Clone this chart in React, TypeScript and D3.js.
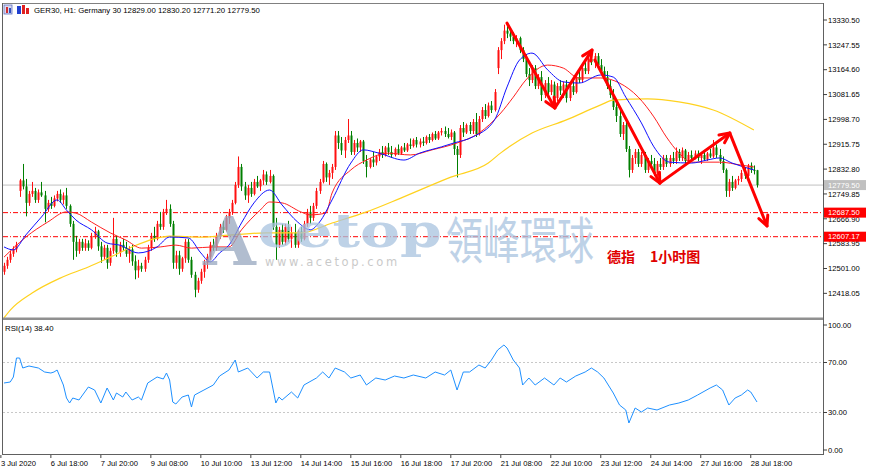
import React from 'react';
import * as d3 from 'd3';

// hourly bars, GER30 H1, 3 Jul 2020 .. 28 Jul 2020
const opens = [
  12490, 12510, 12530, 12550, 12565, 12760, 12795, 12775, 12720, 12750,
  12760, 12730, 12755, 12745, 12700, 12720, 12710, 12735, 12750, 12730,
  12745, 12710, 12650, 12590, 12560, 12590, 12570, 12585, 12570, 12610,
  12625, 12575, 12540, 12570, 12520, 12560, 12600, 12555, 12580, 12570,
  12550, 12565, 12525, 12495, 12510, 12500, 12530, 12570, 12610, 12600,
  12650, 12640, 12690, 12700, 12650, 12520, 12545, 12500, 12535, 12590,
  12530, 12480, 12430, 12460, 12490, 12520, 12540, 12580, 12570, 12610,
  12640, 12630, 12670, 12690, 12720, 12780, 12840, 12775, 12745, 12770,
  12750, 12790, 12775, 12795, 12815, 12790, 12810, 12640, 12580, 12630,
  12590, 12640, 12600, 12620, 12580, 12625, 12600, 12650, 12690, 12670,
  12710, 12760, 12790, 12850, 12805, 12820, 12840, 12945, 12920, 12895,
  12930, 12945, 12890, 12920, 12905, 12925, 12860, 12840, 12865, 12855,
  12875, 12890, 12880, 12905, 12890, 12880, 12900, 12885, 12905, 12895,
  12915, 12910, 12930, 12915, 12925, 12920, 12940, 12930, 12950, 12935,
  12955, 12960, 12950, 12940, 12955, 12900, 12880, 12970, 12955, 12980,
  12960, 12990, 12950, 13000, 13030, 13010, 13045, 13030, 13170, 13230,
  13260, 13295, 13285, 13275, 13260, 13270, 13230, 13200, 13150, 13130,
  13170, 13110, 13140, 13080, 13120, 13090, 13115, 13070, 13110, 13095,
  13115, 13070, 13110, 13090, 13140, 13130, 13170, 13160, 13200, 13190,
  13210, 13180, 13160, 13140, 13110, 13080, 13040, 13010, 12950, 12980,
  12900, 12830, 12870, 12890, 12850, 12880, 12830, 12860, 12850, 12820,
  12850, 12840, 12870, 12850, 12870, 12860, 12890, 12870, 12895, 12860,
  12880, 12870, 12885, 12870, 12880, 12865, 12885, 12875, 12905, 12880,
  12860, 12830, 12760, 12790, 12770, 12795, 12800, 12820, 12810, 12845,
  12830, 12829,
];
const highs = [
  12520, 12540, 12560, 12575, 12590, 12800, 12850, 12800, 12760, 12790,
  12770, 12765, 12790, 12760, 12730, 12740, 12745, 12760, 12765, 12755,
  12770, 12715, 12660, 12610, 12600, 12600, 12600, 12595, 12620, 12640,
  12630, 12590, 12580, 12580, 12570, 12670, 12610, 12590, 12600, 12590,
  12575, 12580, 12545, 12530, 12520, 12540, 12580, 12620, 12640, 12660,
  12690, 12700, 12730, 12715, 12660, 12560, 12560, 12540, 12600, 12600,
  12540, 12490, 12470, 12500, 12530, 12550, 12590, 12600, 12620, 12650,
  12660, 12680, 12700, 12730, 12790, 12875, 12850, 12790, 12780, 12790,
  12800, 12810, 12800, 12830, 12825, 12830, 12815, 12670, 12640, 12650,
  12650, 12660, 12640, 12650, 12630, 12640, 12660, 12700, 12710, 12720,
  12770, 12800, 12860, 12855, 12830, 12850, 12960, 12960, 12940, 12940,
  13000, 12960, 12930, 12935, 12930, 12930, 12880, 12870, 12890, 12880,
  12900, 12910, 12910, 12920, 12910, 12905, 12915, 12910, 12920, 12920,
  12935, 12935, 12940, 12935, 12940, 12945, 12950, 12955, 12960, 12960,
  12970, 12975, 12970, 12965, 12960, 12910, 12980, 12990, 12985, 12990,
  13000, 13020, 13010, 13040, 13050, 13055, 13060, 13100, 13240, 13270,
  13315, 13310, 13300, 13290, 13280, 13275, 13240, 13215, 13170, 13180,
  13180, 13150, 13160, 13130, 13140, 13130, 13125, 13120, 13130, 13125,
  13130, 13120, 13130, 13150, 13160, 13180, 13200, 13210, 13230, 13220,
  13220, 13200, 13175, 13160, 13130, 13100, 13060, 13030, 12990, 12990,
  12910, 12880, 12900, 12900, 12890, 12890, 12870, 12880, 12870, 12860,
  12870, 12880, 12880, 12880, 12890, 12905, 12900, 12905, 12900, 12890,
  12895, 12895, 12895, 12890, 12895, 12890, 12900, 12930, 12915, 12900,
  12875, 12835, 12800, 12810, 12800, 12810, 12830, 12840, 12850, 12855,
  12845, 12830.2,
];
const lows = [
  12480, 12500, 12520, 12540, 12555, 12740, 12765, 12675, 12710, 12740,
  12720, 12720, 12740, 12655, 12690, 12700, 12705, 12725, 12720, 12715,
  12700, 12640, 12530, 12540, 12550, 12560, 12560, 12560, 12565, 12600,
  12560, 12520, 12530, 12500, 12510, 12550, 12540, 12540, 12560, 12540,
  12520, 12510, 12465, 12470, 12490, 12490, 12520, 12560, 12590, 12595,
  12630, 12630, 12680, 12640, 12500, 12500, 12480, 12490, 12520, 12520,
  12470, 12405, 12420, 12450, 12470, 12500, 12530, 12560, 12560, 12600,
  12620, 12625, 12650, 12680, 12715, 12770, 12760, 12730, 12720, 12740,
  12745, 12770, 12760, 12780, 12780, 12785, 12630, 12530, 12570, 12580,
  12580, 12590, 12570, 12570, 12570, 12590, 12595, 12640, 12650, 12660,
  12700, 12750, 12785, 12790, 12780, 12800, 12830, 12900, 12880, 12870,
  12920, 12880, 12880, 12890, 12890, 12850, 12805, 12835, 12840, 12845,
  12860, 12870, 12875, 12880, 12870, 12875, 12880, 12880, 12890, 12890,
  12900, 12905, 12905, 12905, 12910, 12915, 12920, 12925, 12930, 12930,
  12945, 12940, 12935, 12930, 12880, 12805, 12870, 12940, 12950, 12950,
  12950, 12940, 12945, 12990, 13000, 13005, 13020, 13025, 13150, 13200,
  13250, 13270, 13260, 13250, 13240, 13220, 13190, 13140, 13110, 13120,
  13100, 13100, 13060, 13070, 13070, 13080, 13060, 13060, 13080, 13070,
  13055, 13060, 13080, 13085, 13120, 13120, 13150, 13150, 13180, 13170,
  13170, 13150, 13130, 13100, 13070, 13030, 12990, 12940, 12930, 12890,
  12805, 12820, 12850, 12840, 12840, 12820, 12820, 12840, 12810, 12810,
  12830, 12830, 12840, 12840, 12850, 12850, 12860, 12860, 12850, 12850,
  12860, 12865, 12860, 12850, 12860, 12860, 12870, 12870, 12870, 12850,
  12820, 12740, 12740, 12760, 12765, 12780, 12790, 12800, 12800, 12820,
  12815, 12771.2,
];
const closes = [
  12510, 12530, 12550, 12565, 12580, 12795, 12775, 12720, 12750, 12760,
  12730, 12755, 12745, 12700, 12720, 12710, 12735, 12750, 12730, 12745,
  12710, 12650, 12590, 12560, 12590, 12570, 12585, 12570, 12610, 12625,
  12575, 12540, 12570, 12520, 12560, 12600, 12555, 12580, 12570, 12550,
  12565, 12525, 12495, 12510, 12500, 12530, 12570, 12610, 12600, 12650,
  12640, 12690, 12700, 12650, 12520, 12545, 12500, 12535, 12590, 12530,
  12480, 12430, 12460, 12490, 12520, 12540, 12580, 12570, 12610, 12640,
  12630, 12670, 12690, 12720, 12780, 12840, 12775, 12745, 12770, 12750,
  12790, 12775, 12795, 12815, 12790, 12810, 12640, 12580, 12630, 12590,
  12640, 12600, 12620, 12580, 12625, 12600, 12650, 12690, 12670, 12710,
  12760, 12790, 12850, 12805, 12820, 12840, 12945, 12920, 12895, 12930,
  12945, 12890, 12920, 12905, 12925, 12860, 12840, 12865, 12855, 12875,
  12890, 12880, 12905, 12890, 12880, 12900, 12885, 12905, 12895, 12915,
  12910, 12930, 12915, 12925, 12920, 12940, 12930, 12950, 12935, 12955,
  12960, 12950, 12940, 12955, 12900, 12880, 12970, 12955, 12980, 12960,
  12990, 12950, 13000, 13030, 13010, 13045, 13030, 13090, 13230, 13260,
  13295, 13285, 13275, 13260, 13270, 13230, 13200, 13150, 13130, 13170,
  13110, 13140, 13080, 13120, 13090, 13115, 13070, 13110, 13095, 13115,
  13070, 13110, 13090, 13140, 13130, 13170, 13160, 13200, 13190, 13210,
  13180, 13160, 13140, 13110, 13080, 13040, 13010, 12950, 12980, 12900,
  12830, 12870, 12890, 12850, 12880, 12830, 12860, 12850, 12820, 12850,
  12840, 12870, 12850, 12870, 12860, 12890, 12870, 12895, 12860, 12880,
  12870, 12885, 12870, 12880, 12865, 12885, 12875, 12905, 12880, 12860,
  12830, 12760, 12790, 12770, 12795, 12800, 12820, 12810, 12845, 12830,
  12829, 12779.5,
];

// moving averages: [bar, price]
const blueMa = [
  [0, 12573], [3, 12563], [7, 12613], [12, 12673], [17, 12730], [20, 12696], [23, 12663],
  [28, 12630], [33, 12586], [37, 12579], [43, 12553], [49, 12573], [53, 12606], [59, 12603],
  [63, 12553], [66, 12523], [69, 12553], [72, 12579], [76, 12653], [80, 12720], [85, 12763],
  [89, 12713], [94, 12656], [98, 12630], [101, 12656], [105, 12730], [111, 12853], [115, 12897],
  [120, 12886], [128, 12863], [133, 12886], [140, 12907], [144, 12920], [150, 12940],
  [157, 12997], [161, 13107], [165, 13197], [169, 13220], [174, 13164], [179, 13124],
  [184, 13120], [191, 13147], [195, 13140], [199, 13073], [204, 12987], [208, 12907],
  [213, 12856], [220, 12853], [225, 12863], [229, 12870], [233, 12853], [240, 12830],
];
const redMa = [
  [0, 12539], [3, 12569], [7, 12606], [14, 12656], [20, 12690], [23, 12686], [28, 12656],
  [34, 12620], [39, 12596], [44, 12569], [50, 12573], [55, 12579], [60, 12569], [67, 12573],
  [72, 12573], [76, 12630], [82, 12696], [85, 12723], [89, 12720], [95, 12690], [98, 12680],
  [103, 12686], [105, 12753], [111, 12830], [116, 12863], [123, 12886], [130, 12880],
  [137, 12897], [145, 12920], [152, 12953], [159, 13020], [163, 13073], [167, 13130],
  [174, 13180], [179, 13170], [184, 13137], [191, 13137], [197, 13120], [203, 13073],
  [208, 13007], [212, 12940], [216, 12887], [220, 12856], [229, 12856], [236, 12846],
  [240, 12840],
];
const yellowMa = [
  [0, 12336], [2, 12362], [9, 12419], [18, 12469], [27, 12506], [34, 12539], [41, 12573],
  [48, 12600], [53, 12609], [63, 12606], [73, 12613], [84, 12620], [95, 12620], [105, 12653],
  [116, 12690], [127, 12736], [143, 12806], [155, 12853], [159, 12887], [169, 12953],
  [180, 12997], [191, 13047], [195, 13063], [206, 13067], [216, 13057], [227, 13030],
  [240, 12963],
];

// RSI(14): [bar, value]
const rsi = [
  [0, 53.6], [2, 54.4], [3, 58.4], [4, 73.6], [5, 73.6], [6, 65.6], [8, 67.2], [11, 65.6],
  [13, 62.4], [15, 61.6], [16, 62.4], [17, 64], [19, 52], [20, 41.6], [21, 37.6], [22, 41.6],
  [24, 40], [27, 50.4], [29, 48], [31, 37.6], [33, 49.6], [35, 40], [36, 45.6], [38, 42.4],
  [39, 46.4], [41, 40], [43, 42.4], [44, 40], [46, 53.6], [49, 58.4], [51, 56.8], [52, 61.6],
  [53, 56], [54, 38.4], [55, 36.8], [57, 42.4], [59, 44], [60, 34.4], [61, 44], [64, 48],
  [67, 52], [69, 59.2], [72, 64], [74, 72], [75, 62.4], [78, 65.6], [81, 57.6], [83, 62.4],
  [85, 62.4], [87, 37.6], [88, 42.4], [89, 40], [92, 46.4], [94, 41.6], [96, 52], [100, 57.6],
  [102, 62.4], [104, 57.6], [106, 65.6], [109, 62.4], [111, 57.6], [114, 60], [116, 52],
  [119, 57.6], [122, 56], [125, 59.2], [128, 57.6], [131, 60], [135, 57.6], [138, 62.4],
  [141, 60], [143, 64], [145, 48], [147, 62.4], [149, 62.4], [152, 68], [154, 65.6], [156, 72],
  [158, 80], [160, 84], [161, 81.6], [163, 72], [165, 65.6], [166, 52], [168, 57.6], [170, 52],
  [173, 57.6], [176, 52], [178, 57.6], [180, 54.4], [183, 59.2], [186, 62.4], [188, 65.6],
  [190, 62.4], [192, 57.6], [195, 45.6], [197, 36], [199, 32], [200, 21.6], [202, 33.6],
  [204, 30.4], [206, 33.6], [209, 32], [213, 36], [216, 37.6], [219, 40], [222, 44],
  [226, 49.6], [228, 52], [230, 48], [232, 36], [234, 41.6], [236, 44], [238, 48],
  [239, 46.4], [241, 38.4],
];

const priceTicks = [13330.5, 13247.55, 13164.6, 13081.65, 12998.7, 12915.75, 12832.8, 12749.85, 12666.9, 12583.95, 12501.0, 12418.05];
const rsiTicks = [100, 70, 30, 0];
const timeIdx = [-1, 15, 31, 47, 63, 79, 95, 111, 127, 143, 159, 175, 191, 207, 223, 239];
const timeLabels = ['3 Jul 2020', '6 Jul 18:00', '7 Jul 20:00', '9 Jul 08:00', '10 Jul 10:00', '13 Jul 12:00', '14 Jul 14:00', '15 Jul 16:00', '16 Jul 18:00', '17 Jul 20:00', '21 Jul 08:00', '22 Jul 10:00', '23 Jul 12:00', '24 Jul 14:00', '27 Jul 16:00', '28 Jul 18:00'];
const supportLevels = [12687.5, 12607.17];
const lastPrice = 12779.5;

// hand-drawn zigzag arrows: [bar0, price0, bar1, price1]
const arrows = [
  [161, 13320, 176.3, 13037],
  [176.3, 13037, 188.2, 13230],
  [189.1, 13197, 209.9, 12786],
  [209.9, 12786, 232.3, 12953],
  [232.3, 12953, 244.2, 12643],
];

const font = "'Liberation Sans', Arial, sans-serif";

export default function App() {
  const x = d3.scaleLinear().domain([0, 241]).range([4, 757]);
  const y = d3.scaleLinear().domain([12418.05, 13330.5]).range([293.35, 20]);
  const yr = d3.scaleLinear().domain([0, 100]).range([450, 325]);

  const maLine = d3.line<number[]>().x((d) => x(d[0])).y((d) => y(d[1])).curve(d3.curveMonotoneX);
  const rsiLine = d3.line<number[]>().x((d) => x(d[0])).y((d) => yr(d[1]));

  const head = (x1: number, y1: number, x2: number, y2: number) => {
    const a = Math.atan2(y2 - y1, x2 - x1);
    const len = 11, th = 0.45;
    const p1 = [x2 - len * Math.cos(a - th), y2 - len * Math.sin(a - th)];
    const p2 = [x2 - len * Math.cos(a + th), y2 - len * Math.sin(a + th)];
    return `M${p1[0]},${p1[1]}L${x2},${y2}L${p2[0]},${p2[1]}`;
  };

  return (
    <svg width={870} height={470} style={{ position: 'absolute', left: 0, top: 0, background: '#fff' }} fontFamily={font}>
      <defs>
        <clipPath id="mainClip"><rect x={3} y={3} width={820} height={315} /></clipPath>
        <clipPath id="rsiClip"><rect x={3} y={320} width={820} height={134} /></clipPath>
      </defs>

      {/* header */}
      <rect x={4} y={5} width={8} height={9} fill="#d8d8f0" stroke="#6070c0" strokeWidth={0.8} />
      <rect x={6} y={7} width={2} height={6} fill="#d03030" />
      <rect x={9} y={8} width={2} height={5} fill="#3050c0" />
      <rect x={17} y={6} width={4} height={8} fill="#2040d0" />
      <rect x={22} y={5} width={3} height={9} fill="#e02020" />
      <rect x={26} y={8} width={3} height={6} fill="#e02020" />
      <text x={34} y={13} fontSize={7.8} fill="#000">GER30, H1:  Germany 30  12829.00 12830.20 12771.20 12779.50</text>

      {/* main panel */}
      <g clipPath="url(#mainClip)">
        <line x1={3} x2={823} y1={y(lastPrice)} y2={y(lastPrice)} stroke="#c0c0c0" strokeWidth={1} />
        {supportLevels.map((v) => (
          <line key={v} x1={3} x2={823} y1={y(v)} y2={y(v)} stroke="#ff0000" strokeWidth={1} strokeDasharray="5,2,1,2" />
        ))}
        {opens.map((o, i) => {
          const c = closes[i];
          const col = c >= o ? '#ff1010' : '#007f00';
          const cx = Math.round(x(i)) + 0.5;
          const top = y(Math.max(o, c));
          const bot = y(Math.min(o, c));
          return (
            <g key={i}>
              <line x1={cx} x2={cx} y1={y(highs[i])} y2={y(lows[i])} stroke={col} strokeWidth={1} />
              <rect x={cx - 1} y={top} width={2} height={Math.max(1, bot - top)} fill={col} />
            </g>
          );
        })}
        <path d={maLine(yellowMa) || ''} fill="none" stroke="#ffd21f" strokeWidth={1.2} />
        <path d={maLine(redMa) || ''} fill="none" stroke="#ff2020" strokeWidth={1} />
        <path d={maLine(blueMa) || ''} fill="none" stroke="#1010ff" strokeWidth={1} />

        {/* watermark */}
        <g opacity={0.75}>
          <text x={203} y={265} fontFamily="'DejaVu Serif', serif" fontWeight="bold" fontSize={68} fill="#98a8bf">A</text>
          <g transform="translate(258,247) scale(1.3,1)">
            <text x={0} y={0} fontFamily="'DejaVu Serif', serif" fontWeight="bold" fontSize={46} fill="#a9c3e0">cetop</text>
          </g>
          <g transform="translate(446,259) scale(0.74,1)">
            <text x={0} y={0} fontFamily="'Noto Sans CJK TC', sans-serif" fontSize={50} fill="#a9c3e0">領峰環球</text>
          </g>
          <text x={265} y={266} fontFamily="'DejaVu Sans', sans-serif" fontSize={11.5} fill="#b8b8b8" letterSpacing={2.6}>www.acetop.com</text>
        </g>

        {arrows.map((a, k) => {
          const x1 = x(a[0]), y1 = y(a[1]), x2 = x(a[2]), y2 = y(a[3]);
          return (
            <g key={k} stroke="#ff0000" strokeWidth={3} fill="none" strokeLinecap="round" strokeLinejoin="round">
              <line x1={x1} y1={y1} x2={x2} y2={y2} />
              <path d={head(x1, y1, x2, y2)} />
            </g>
          );
        })}
      </g>
      <text x={607} y={262} fontFamily="'Noto Sans CJK SC', sans-serif" fontSize={14} fontWeight="bold" fill="#e00000">德指</text>
      <text x={650} y={262} fontFamily="'Noto Sans CJK SC', sans-serif" fontSize={14} fontWeight="bold" fill="#e00000">1小时图</text>

      {/* RSI panel */}
      <g clipPath="url(#rsiClip)">
        {[70, 30].map((v) => (
          <line key={v} x1={3} x2={823} y1={yr(v)} y2={yr(v)} stroke="#c8c8c8" strokeDasharray="2,2" />
        ))}
        <path d={rsiLine(rsi) || ''} fill="none" stroke="#1e90ff" strokeWidth={1} />
      </g>
      <text x={5} y={331} fontSize={7.8} fill="#000">RSI(14) 38.40</text>

      {/* frames */}
      <line x1={3} x2={823} y1={3.5} y2={3.5} stroke="#808080" />
      <line x1={2.5} x2={2.5} y1={3} y2={455} stroke="#606060" />
      <line x1={823.5} x2={823.5} y1={3} y2={455} stroke="#606060" />
      <rect x={3} y={317.5} width={820} height={2.5} fill="#909090" />
      <line x1={3} x2={823} y1={454.5} y2={454.5} stroke="#606060" />

      {/* price axis */}
      {priceTicks.map((v) => (
        <g key={v}>
          <line x1={823} x2={827} y1={y(v)} y2={y(v)} stroke="#404040" />
          <text x={828} y={y(v) + 2.7} fontSize={7.6} fill="#000">{v.toFixed(2)}</text>
        </g>
      ))}
      <rect x={824} y={y(lastPrice) - 5} width={42} height={10} fill="#c0c0c0" />
      <text x={828} y={y(lastPrice) + 2.7} fontSize={7.6} fill="#fff">{lastPrice.toFixed(2)}</text>
      {supportLevels.map((v) => (
        <g key={v}>
          <rect x={824} y={y(v) - 5} width={42} height={10} fill="#ff0000" />
          <text x={828} y={y(v) + 2.7} fontSize={7.6} fill="#fff">{v.toFixed(2)}</text>
        </g>
      ))}
      {rsiTicks.map((v) => (
        <g key={v}>
          <line x1={823} x2={827} y1={yr(v)} y2={yr(v)} stroke="#404040" />
          <text x={828} y={yr(v) + 2.7} fontSize={7.6} fill="#000">{v.toFixed(2)}</text>
        </g>
      ))}

      {/* time axis */}
      {timeIdx.map((t, k) => (
        <g key={t}>
          <line x1={x(t)} x2={x(t)} y1={455} y2={458} stroke="#404040" />
          <text x={x(t)} y={466} fontSize={7.6} fill="#000">{timeLabels[k]}</text>
        </g>
      ))}
    </svg>
  );
}
